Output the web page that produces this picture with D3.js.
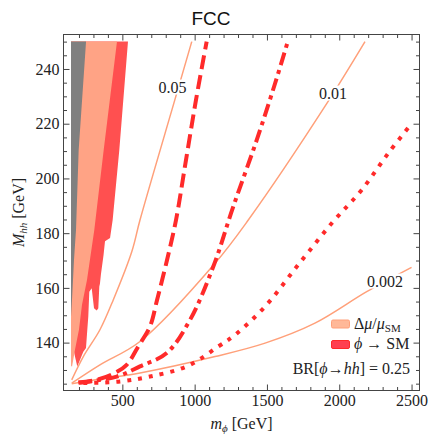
<!DOCTYPE html>
<html><head><meta charset="utf-8">
<script src="https://cdn.jsdelivr.net/npm/d3@7"></script>
<style>body{margin:0;background:#fff}svg{display:block}text{font-family:"Liberation Serif","Times New Roman",serif}</style>
</head><body>
<script>
// ---- data (m_phi in GeV, M_hh in GeV) ----
const xTicks = [500, 1000, 1500, 2000, 2500];
const yTicks = [140, 160, 180, 200, 220, 240];
const contourLabels = ["0.05", "0.01", "0.002"];
const contourLabelM = [847, 1957, 2317];
const contourLabelMhh = [233.4, 231.2, 162.5];

const contour005 = [[150,126.4],[230,134.9],[345,144.7],[437,155.6],[565,173.2],[622,184.8],[869,229.8],[980,250]];
const contour001 = [[150,125.2],[345,131.9],[622,140.4],[1141,169],[1371,184.8],[1902,226.4],[2178,250]];
const contour0002 = [[150,125],[345,126.7],[622,128.9],[1141,134.9],[1487,139.8],[1832,147.1],[2190,158.6],[2500,167.5]];

const smDashed = [[195,125.4],[323,126.4],[437,128.6],[530,131.9],[610,138.6],[691,145.9],[740,155.6],[809,170.2],[871,184.8],[940,206.7],[1009,228.6],[1083,250]];
const smDotDash = [[200,125.3],[461,127.6],[622,131.3],[807,136.2],[968,148.3],[1129,167.8],[1267,189.7],[1429,214],[1556,234.7],[1644,250]];
const smDotted = [[230,125.2],[484,125.8],[691,127.6],[945,131.3],[1164,138.6],[1279,142.8],[1487,153.2],[1717,168.5],[1948,183.6],[2155,195.8],[2339,209.2],[2500,220]];

const greyRegion = [[145,250],[249,250],[198,210.4],[179.5,181.2],[165.6,170.2],[151.8,155.6],[145,149.4]];
const muRegion = [[145,250],[463,250],[371,210.4],[306,181.2],[255.5,162.9],[221,153.8],[200,144.7],[172.5,137.4],[152,131.2],[145,131.5]];
const smRegion = [[145,250],[539,250],[479,210.4],[433,184.8],[415,178.2],[380,177],[370,172],[352,165],[345,161.5],[340.6,160.5],[333.7,152.6],[322.6,151.7],[304,152.6],[288,159.9],[271.4,158.6],[264.5,149.5],[257.6,144.7],[248.6,138],[230,136.7],[188.4,131.3],[172,135],[160,138],[145,145]];

// ---- setup ----
const SERIF = "Liberation Serif, Times New Roman, serif";
const W = 431, H = 436;
const svg = d3.select("body").append("svg").attr("width", W).attr("height", H).attr("font-family", SERIF);
const x = d3.scaleLinear().domain([93, 2555]).range([63.5, 419.5]);
const y = d3.scaleLinear().domain([122.5, 252.6]).range([390.5, 34.5]);

svg.append("defs").append("clipPath").attr("id", "clip")
  .append("rect").attr("x", 63.5).attr("y", 34.5).attr("width", 356).attr("height", 356);

const plot = svg.append("g").attr("clip-path", "url(#clip)");
const area = d3.line().x(d => x(d[0])).y(d => y(d[1]));
const smooth = d3.line().x(d => x(d[0])).y(d => y(d[1])).curve(d3.curveCatmullRom.alpha(0.5));

plot.append("path").attr("d", area(smRegion) + "Z").attr("fill", "#FF5050");
plot.append("path").attr("d", area(muRegion) + "Z").attr("fill", "#FFA385");
plot.append("path").attr("d", area(greyRegion) + "Z").attr("fill", "#808080");

const salmon = "#FFA07A", red = "#FF2A2A";
[contour005, contour001, contour0002].forEach(c => {
  plot.append("path").attr("d", smooth(c)).attr("fill", "none")
    .attr("stroke", salmon).attr("stroke-width", 1.5);
});
plot.append("path").attr("d", smooth(smDashed)).attr("fill", "none").attr("stroke", red)
  .attr("stroke-width", 4).attr("stroke-dasharray", "14,6");
plot.append("path").attr("d", smooth(smDotDash)).attr("fill", "none").attr("stroke", red)
  .attr("stroke-width", 4).attr("stroke-dasharray", "13,5,4,5");
plot.append("path").attr("d", smooth(smDotted)).attr("fill", "none").attr("stroke", red)
  .attr("stroke-width", 4).attr("stroke-dasharray", "4,7");

// contour labels with white backing
contourLabels.forEach((t, i) => {
  const g = plot.append("g");
  const txt = g.append("text").attr("x", x(contourLabelM[i])).attr("y", y(contourLabelMhh[i]) + 5.5)
    .attr("text-anchor", "middle").attr("font-family", SERIF)
    .attr("font-size", 16).attr("fill", "#222").text(t);
  const b = txt.node().getBBox();
  g.insert("rect", "text").attr("x", b.x - 2).attr("y", b.y + 1).attr("width", b.width + 4)
    .attr("height", b.height - 2).attr("fill", "#fff");
});

// ---- axes ----
const xMinor = d3.range(200, 2600, 100).filter(v => v % 500 !== 0);
const yMinor = d3.range(125, 255, 5).filter(v => v % 20 !== 0);
const axCol = "#444";
function styleAxis(g) {
  g.attr("font-family", SERIF).attr("font-size", 16);
  g.select(".domain").remove();
  g.selectAll("line").attr("stroke", axCol);
  g.selectAll("text").attr("fill", "#222");
}
const fmt = d3.format("d");
svg.append("g").attr("transform", "translate(0,390.5)")
  .call(d3.axisBottom(x).tickValues(xTicks).tickFormat(fmt).tickSizeInner(-6).tickSizeOuter(0).tickPadding(4)).call(styleAxis);
svg.append("g").attr("transform", "translate(0,390.5)")
  .call(d3.axisBottom(x).tickValues(xMinor).tickSizeInner(-3.5).tickSizeOuter(0).tickFormat("")).call(styleAxis);
svg.append("g").attr("transform", "translate(0,34.5)")
  .call(d3.axisTop(x).tickValues(xTicks).tickSizeInner(-6).tickSizeOuter(0).tickFormat("")).call(styleAxis);
svg.append("g").attr("transform", "translate(0,34.5)")
  .call(d3.axisTop(x).tickValues(xMinor).tickSizeInner(-3.5).tickSizeOuter(0).tickFormat("")).call(styleAxis);
svg.append("g").attr("transform", "translate(63.5,0)")
  .call(d3.axisLeft(y).tickValues(yTicks).tickFormat(fmt).tickSizeInner(-6).tickSizeOuter(0).tickPadding(4)).call(styleAxis);
svg.append("g").attr("transform", "translate(63.5,0)")
  .call(d3.axisLeft(y).tickValues(yMinor).tickSizeInner(-3.5).tickSizeOuter(0).tickFormat("")).call(styleAxis);
svg.append("g").attr("transform", "translate(419.5,0)")
  .call(d3.axisRight(y).tickValues(yTicks).tickSizeInner(-6).tickSizeOuter(0).tickFormat("")).call(styleAxis);
svg.append("g").attr("transform", "translate(419.5,0)")
  .call(d3.axisRight(y).tickValues(yMinor).tickSizeInner(-3.5).tickSizeOuter(0).tickFormat("")).call(styleAxis);

svg.append("rect").attr("x", 63.5).attr("y", 34.5).attr("width", 356).attr("height", 356)
  .attr("fill", "none").attr("stroke", axCol).attr("stroke-width", 1);

// ---- titles ----
svg.append("text").attr("x", 211).attr("y", 25).attr("text-anchor", "middle")
  .attr("font-family", "Liberation Sans, Arial, sans-serif").style("font-family", "Liberation Sans, Arial, sans-serif")
  .attr("font-size", 19).attr("fill", "#111").text("FCC");

const xl = svg.append("text").attr("x", 241.5).attr("y", 429).attr("text-anchor", "middle")
  .attr("font-family", SERIF).attr("font-size", 16).attr("fill", "#222");
xl.append("tspan").attr("font-style", "italic").text("m");
xl.append("tspan").attr("font-style", "italic").attr("font-size", 11).attr("dy", 3).text("ϕ");
xl.append("tspan").attr("dy", -3).text(" [GeV]");

const yl = svg.append("text").attr("transform", "translate(24,212.5) rotate(-90)").attr("text-anchor", "middle")
  .attr("font-family", SERIF).attr("font-size", 16).attr("fill", "#222");
yl.append("tspan").attr("font-style", "italic").text("M");
yl.append("tspan").attr("font-style", "italic").attr("font-size", 11).attr("dy", 3).text("hh");
yl.append("tspan").attr("dy", -3).text(" [GeV]");

// ---- legend ----
svg.append("rect").attr("x", 331.5).attr("y", 320).attr("width", 18).attr("height", 8).attr("rx", 1.5)
  .attr("fill", "#FFB898").attr("stroke", "#FFA07A").attr("stroke-width", 1);
svg.append("rect").attr("x", 331.5).attr("y", 340.5).attr("width", 18).attr("height", 8).attr("rx", 1.5)
  .attr("fill", "#FF4050").attr("stroke", "#FF2A2A").attr("stroke-width", 1);
const l1 = svg.append("text").attr("x", 354).attr("y", 328.5).attr("font-family", SERIF).attr("font-size", 16).attr("fill", "#222");
l1.append("tspan").text("Δ");
l1.append("tspan").attr("font-style", "italic").text("μ");
l1.append("tspan").text("/");
l1.append("tspan").attr("font-style", "italic").text("μ");
l1.append("tspan").attr("font-size", 11).attr("dy", 3).text("SM");
const l2 = svg.append("text").attr("x", 354).attr("y", 348.5).attr("font-family", SERIF).attr("font-size", 16).attr("fill", "#222");
l2.append("tspan").attr("font-style", "italic").text("ϕ");
l2.append("tspan").text(" → SM");
const l3 = svg.append("text").attr("x", 410).attr("y", 374).attr("text-anchor", "end").attr("font-family", SERIF).attr("font-size", 16).attr("fill", "#222");
l3.append("tspan").text("BR[");
l3.append("tspan").attr("font-style", "italic").text("ϕ");
l3.append("tspan").text("→");
l3.append("tspan").attr("font-style", "italic").text("hh");
l3.append("tspan").text("] = 0.25");
</script>
</body></html>
